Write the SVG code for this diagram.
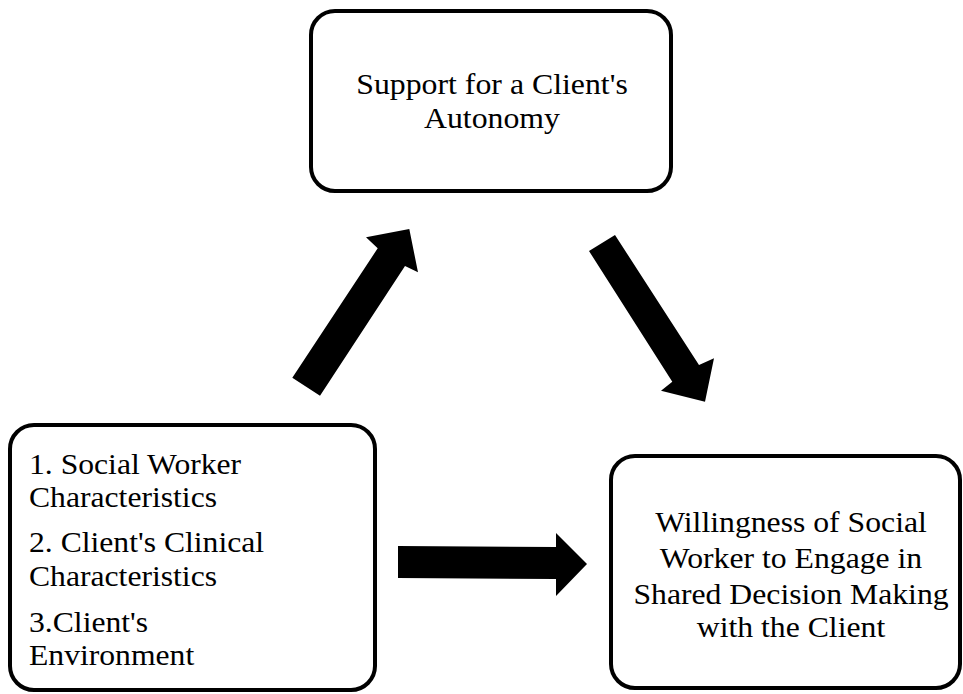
<svg xmlns="http://www.w3.org/2000/svg" width="963" height="694" viewBox="0 0 963 694">
<style>
.box{fill:#fff;stroke:#000;stroke-width:4}
.t{font-family:"Liberation Serif","Times New Roman",serif;font-size:30px;fill:#000}
.c{text-anchor:middle}
.arr{fill:#000;stroke:none}
</style>
<rect width="963" height="694" fill="#fff"/>
<g id="node-autonomy">
<rect class="box" x="311" y="11" width="360" height="180" rx="24"/>
<g transform="translate(492,0) scale(1.06,1)">
<text class="t c" x="0" y="94">Support for a Client's</text>
<text class="t c" x="0" y="128">Autonomy</text>
</g>
</g>
<g id="node-factors">
<rect class="box" x="10" y="425" width="365" height="265" rx="24"/>
<g transform="translate(29,0) scale(1.055,1)">
<text class="t" x="0" y="474">1. Social Worker</text>
<text class="t" x="0" y="507">Characteristics</text>
<text class="t" x="0" y="552">2. Client's Clinical</text>
<text class="t" x="0" y="586">Characteristics</text>
<text class="t" x="0" y="632">3.Client's</text>
<text class="t" x="0" y="665">Environment</text>
</g>
</g>
<g id="node-willingness">
<rect class="box" x="611" y="456" width="349" height="232" rx="24"/>
<g transform="translate(791,0) scale(1.057,1)">
<text class="t c" x="0" y="532">Willingness of Social</text>
<text class="t c" x="0" y="568">Worker to Engage in</text>
<text class="t c" x="0" y="604">Shared Decision Making</text>
<text class="t c" x="0" y="637">with the Client</text>
</g>
</g>
<g id="connectors">
<polygon class="arr" points="292.3,377.7 377.7,248.3 366,237.3 409.3,229 418,272.3 405,266 320,395.7"/>
<polygon class="arr" points="589,251 615,235 699,365 714,358.3 705,401.7 661,390.7 672.3,381.7"/>
<polygon class="arr" points="398,546 556,547 556,533 587,564 556,596 556,579 398,578"/>
</g>
</svg>
